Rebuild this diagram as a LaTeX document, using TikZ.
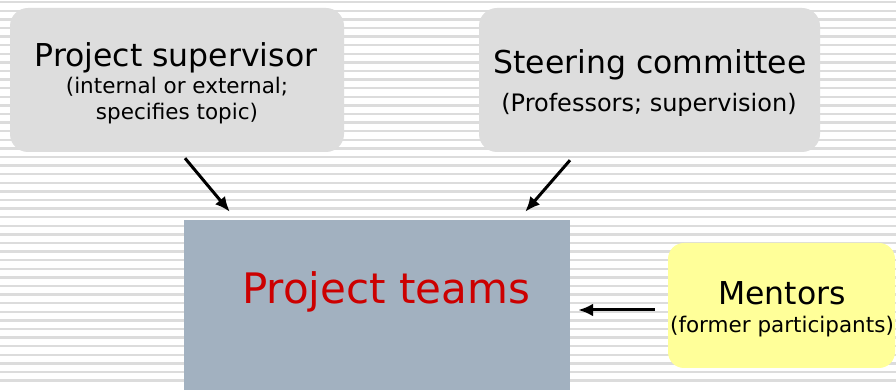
\documentclass[tikz,border=0pt]{standalone}
\usepackage{fontspec}
\setmainfont{DejaVu Sans}
\usetikzlibrary{arrows.meta}
\definecolor{stripegrey}{HTML}{DCDCDC}
\definecolor{boxgrey}{HTML}{DDDDDD}
\definecolor{teamblue}{HTML}{A2B1C0}
\definecolor{mentoryellow}{HTML}{FFFF99}
\definecolor{teamred}{HTML}{CC0000}
\newcommand{\bigtxt}{\fontsize{31.5}{37}\selectfont}
\newcommand{\smalltxt}{\fontsize{21.5}{26.7}\selectfont}

\begin{document}
\begin{tikzpicture}[x=1pt,y=1pt,
    box/.style={rounded corners=18pt, inner sep=0pt, minimum height=144pt},
    txt/.style={anchor=base, inner sep=0pt},
    arr/.style={line width=3pt, -{Latex[length=15pt,width=13pt]}}]
    \useasboundingbox (0,0) rectangle (896,390);
    \fill[white] (0,0) rectangle (896,390);
    \foreach \k in {0,...,44}
        \fill[stripegrey] (0,389-8.6*\k) rectangle (896,386.5-8.6*\k);
    \node[box, fill=boxgrey, minimum width=334pt] (sup) at (177,310) {};
    \node[box, fill=boxgrey, minimum width=341pt] (steer) at (649.5,310) {};
    \node[fill=teamblue, inner sep=0pt, minimum width=386pt, minimum height=170pt] (teams) at (377,85) {};
    \node[box, fill=mentoryellow, rounded corners=16pt, minimum width=227pt, minimum height=125pt] (mentors) at (781.5,84.5) {};
    \node[txt, font=\bigtxt] (suptitle) at (176,323.3) {Project supervisor};
    \node[txt, font=\smalltxt] (supnote) at (177,296.7) {(internal or external;};
    \node[txt, font=\smalltxt] (supnotetwo) at (177,270) {specifies topic)};
    \node[txt, font=\bigtxt] (steertitle) at (650,316) {Steering committee};
    \node[txt, font=\fontsize{24}{28}\selectfont] (steernote) at (649,278.3) {(Professors; supervision)};
    \node[txt, text=teamred, font=\fontsize{42}{50}\selectfont] (teamstitle) at (386,86) {Project teams};
    \node[txt, font=\bigtxt] (mentorstitle) at (782,85) {Mentors};
    \node[txt, font=\smalltxt] (mentorsnote) at (782,57) {(former participants)};
    \draw[arr] ([shift={(8,-6)}]sup.south) -- ([shift={(46,8)}]teams.north west);
    \draw[arr] ([shift={(-79.5,-8)}]steer.south) -- ([shift={(-45,8)}]teams.north east);
    \draw[arr] ([shift={(-13,-4.5)}]mentors.west) -- ([shift={(8,-5)}]teams.east);
\end{tikzpicture}
\end{document}
